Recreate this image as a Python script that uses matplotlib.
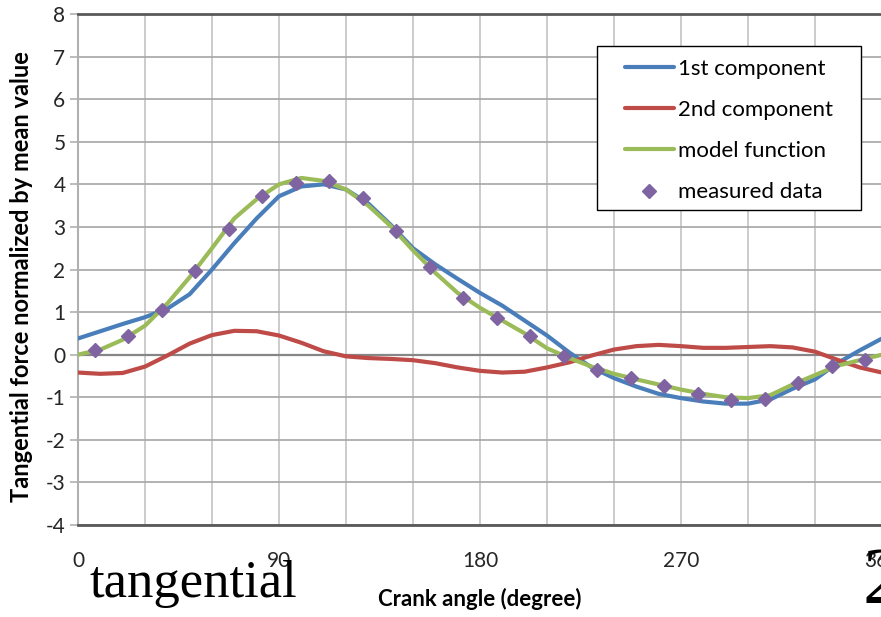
import matplotlib
matplotlib.use("Agg")
import matplotlib.pyplot as plt
from matplotlib.patches import Rectangle
from matplotlib.ticker import MultipleLocator

# crank angle grid for the smooth curves (degree)
angle = list(range(0, 361, 10))

first_comp = [0.38, 0.55, 0.72, 0.88, 1.08, 1.42, 2.0, 2.62, 3.2, 3.72,
              3.95, 4.0, 3.88, 3.55, 3.05, 2.5, 2.12, 1.78, 1.45, 1.15,
              0.8, 0.45, 0.05, -0.3, -0.55, -0.75, -0.92, -1.02, -1.1, -1.15,
              -1.15, -1.05, -0.8, -0.58, -0.2, 0.1, 0.38]

second_comp = [-0.42, -0.45, -0.43, -0.28, -0.02, 0.26, 0.46, 0.56, 0.55, 0.45,
               0.28, 0.08, -0.04, -0.08, -0.1, -0.13, -0.2, -0.3, -0.38, -0.42,
               -0.4, -0.3, -0.18, -0.02, 0.12, 0.2, 0.23, 0.2, 0.16, 0.16,
               0.18, 0.2, 0.17, 0.07, -0.12, -0.3, -0.42]

model_func = [0.0, 0.12, 0.35, 0.68, 1.2, 1.82, 2.5, 3.2, 3.65, 4.0,
              4.15, 4.08, 3.88, 3.5, 3.02, 2.45, 1.92, 1.45, 1.1, 0.8,
              0.5, 0.15, -0.08, -0.28, -0.45, -0.58, -0.7, -0.82, -0.92, -1.0,
              -1.02, -0.95, -0.7, -0.48, -0.26, -0.13, 0.0]

meas_angle = [7.5 + 15 * i for i in range(24)]
meas_data = [0.1, 0.45, 1.05, 1.97, 2.95, 3.72, 4.04, 4.07, 3.69, 2.9,
             2.05, 1.32, 0.87, 0.45, -0.02, -0.35, -0.54, -0.73, -0.92, -1.06,
             -1.04, -0.66, -0.26, -0.12]

plt.rcParams['font.family'] = ['Lato', 'DejaVu Sans']
plt.rcParams['axes.unicode_minus'] = False

fig = plt.figure(figsize=(8.81, 6.17), dpi=100)
ax = fig.add_axes([78 / 881, 92 / 617, 804 / 881, 511 / 617])

line_kw = dict(lw=3, solid_joinstyle='round', solid_capstyle='round')
ax.plot(angle, first_comp, color='#4A7EBB', label='1st component', zorder=3, **line_kw)
ax.plot(angle, second_comp, color='#BE4B48', label='2nd component', zorder=3, **line_kw)
ax.plot(angle, model_func, color='#9BBB59', label='model function', zorder=4, **line_kw)
ax.plot(meas_angle, meas_data, linestyle='none', marker='D', ms=7,
        color='#8064A2', label='measured data', zorder=5)

ax.axhline(0, color='#868686', lw=1.6, zorder=2)

ax.set_xlim(0, 360)
ax.set_ylim(-4, 8)
ax.xaxis.set_major_locator(MultipleLocator(90))
ax.xaxis.set_minor_locator(MultipleLocator(30))
ax.yaxis.set_major_locator(MultipleLocator(1))
ax.grid(which='minor', axis='x', color='#c4c4c4', lw=1.2)
ax.grid(which='major', axis='x', color='#c4c4c4', lw=1.2)
ax.grid(which='major', axis='y', color='#a6a6a6', lw=1.2)
ax.set_axisbelow(True)

for side in ['top', 'bottom']:
    ax.spines[side].set_color('#595959')
    ax.spines[side].set_linewidth(2)
ax.spines['left'].set_color('#b0b0b0')
ax.spines['left'].set_linewidth(1.5)
ax.spines['right'].set_visible(False)

ax.tick_params(axis='x', which='both', length=0, pad=19, labelsize=15, labelcolor='#262626')
ax.tick_params(axis='y', length=6, width=1.2, color='#b0b0b0', pad=3,
               labelsize=15, labelcolor='#262626')

ax.set_ylabel('Tangential force normalized by mean value', fontsize=17,
              fontweight='bold')
ax.yaxis.set_label_coords(-0.056, 0.487)

fig.text(480 / 881, 1 - 599 / 617, 'Crank angle (degree)', fontsize=16,
         fontweight='bold', ha='center', va='center')

# legend box drawn separately so its padding can be wider than the text
ax.add_patch(Rectangle((0.6455, 0.6164), 0.3284, 0.3209, transform=ax.transAxes,
                       facecolor='white', edgecolor='black', lw=1.0, zorder=6))
leg = ax.legend(loc='upper left', bbox_to_anchor=(547 / 804, 0.912), fontsize=16,
                frameon=False, handlelength=2.2, handletextpad=0.2,
                labelspacing=0.95, borderpad=0, borderaxespad=0)
leg.set_zorder(7)

# slide text sitting under the chart
fig.text(90 / 881, 1 - 597 / 617, 'tangential', family='Liberation Serif',
         fontsize=38, ha='left', va='baseline')
fig.text(863 / 881, 1 - 603 / 617, '2', family='Liberation Serif',
         fontsize=58, ha='left', va='baseline')

fig.savefig('out.png', dpi=100)
